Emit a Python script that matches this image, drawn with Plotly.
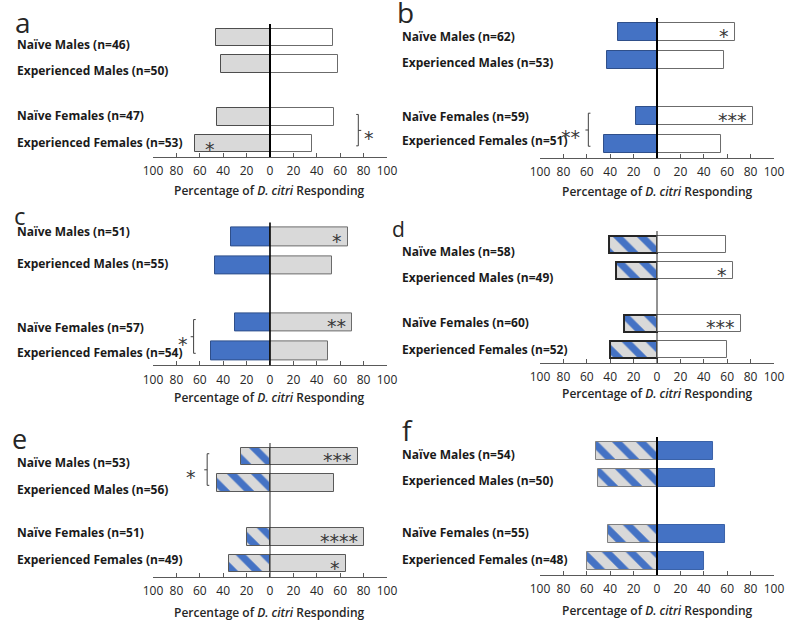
import plotly.graph_objects as go

# ---------------- data ----------------
categories = ["Naïve Males", "Experienced Males", "Naïve Females", "Experienced Females"]
spacer = " "
category_order = [categories[0], categories[1], spacer, categories[2], categories[3]]

tick_values = [-100, -80, -60, -40, -20, 0, 20, 40, 60, 80, 100]
tick_labels = ["100", "80", "60", "40", "20", "0", "20", "40", "60", "80", "100"]

# panel a
n_a = [46, 50, 47, 53]
left_a = [46, 42, 45, 64]
right_a = [54, 58, 55, 36]
left_sig_a = ["", "", "", "*"]
right_sig_a = ["", "", "", ""]
# panel b
n_b = [62, 53, 59, 51]
left_b = [33, 43, 18, 45]
right_b = [67, 57, 82, 55]
left_sig_b = ["", "", "", ""]
right_sig_b = ["*", "", "***", ""]
# panel c
n_c = [51, 55, 57, 54]
left_c = [33, 47, 30, 50]
right_c = [67, 53, 70, 50]
left_sig_c = ["", "", "", ""]
right_sig_c = ["*", "", "**", ""]
# panel d
n_d = [58, 49, 60, 52]
left_d = [41, 35, 28, 40]
right_d = [59, 65, 72, 60]
left_sig_d = ["", "", "", ""]
right_sig_d = ["", "*", "***", ""]
# panel e
n_e = [53, 56, 51, 49]
left_e = [25, 45, 20, 35]
right_e = [75, 55, 80, 65]
left_sig_e = ["", "", "", ""]
right_sig_e = ["***", "", "****", "*"]
# panel f
n_f = [54, 50, 55, 48]
left_f = [52, 50, 42, 60]
right_f = [48, 50, 58, 40]
left_sig_f = ["", "", "", ""]
right_sig_f = ["", "", "", ""]

# group comparisons: (first category, second category, text)
bracket_a = ("Naïve Females", "Experienced Females", "*")
bracket_b = ("Naïve Females", "Experienced Females", "**")
bracket_c = ("Naïve Females", "Experienced Females", "*")
bracket_e = ("Naïve Males", "Experienced Males", "*")

# ---------------- styles ----------------
W, H = 795, 620
GRAY = "#d9d9d9"
BLUE = "#4472c4"
WHITE = "#ffffff"
DARK = "#262626"
FONT = "Open Sans"
STAR_FONT = dict(family="DejaVu Sans", size=19, color="#3a3a3a")

def style(kind, outline="#595959", lw=1):
    if kind == "hatch":
        return dict(color=GRAY, line=dict(color=outline, width=lw),
                    pattern=dict(shape="\\", bgcolor=GRAY, fgcolor=BLUE,
                                 size=17, solidity=0.42, fillmode="replace"))
    col = {"gray": GRAY, "blue": BLUE, "white": WHITE}[kind]
    return dict(color=col, line=dict(color=outline, width=lw))

panels = [
    dict(letter="a", n=n_a, left=left_a, right=right_a, lsig=left_sig_a, rsig=right_sig_a,
         lstyle=style("gray", "#4d4d4d"), rstyle=style("white", "#6b6b6b"),
         xpx=(146.7, 386.7), ypx=(24, 157), zero=(2, "#000000"),
         letter_pos=(13, 22), letter_size=28, label_x=5,
         label_off=[6.7, 7.1, -2.1, -1.7], title_off=34,
         bracket=bracket_a, bracket_x=75.5, bracket_dir=-1, bracket_text_x=85),
    dict(letter="b", n=n_b, left=left_b, right=right_b, lsig=left_sig_b, rsig=right_sig_b,
         lstyle=style("blue", "#2f4f8a"), rstyle=style("white", "#6b6b6b"),
         xpx=(543.7, 783.7), ypx=(18, 158), zero=(2, "#000000"),
         letter_pos=(406, 12), letter_size=28, label_x=400.5,
         label_off=[4, 2.5, 0, -4], title_off=33,
         bracket=bracket_b, bracket_x=-58.7, bracket_dir=1, bracket_text_x=-74),
    dict(letter="c", n=n_c, left=left_c, right=right_c, lsig=left_sig_c, rsig=right_sig_c,
         lstyle=style("blue", "#2f4f8a"), rstyle=style("gray", "#6b6b6b"),
         xpx=(146.7, 386.7), ypx=(222.4, 365.3), zero=(1.6, "#000000"),
         letter_pos=(10, 215), letter_size=24, label_x=5,
         label_off=[-4.7, -1.3, 5, 1.5], title_off=32,
         bracket=bracket_c, bracket_x=-65.3, bracket_dir=1, bracket_text_x=-74),
    dict(letter="d", n=n_d, left=left_d, right=right_d, lsig=left_sig_d, rsig=right_sig_d,
         lstyle=style("hatch", "#262626", 2), rstyle=style("white", "#6b6b6b"),
         xpx=(543.7, 783.7), ypx=(231, 363), zero=(1, "#262626"),
         letter_pos=(399, 229), letter_size=21, label_x=400.5,
         label_off=[7.5, 6.9, -0.9, -0.8], title_off=30,
         bracket=None),
    dict(letter="e", n=n_e, left=left_e, right=right_e, lsig=left_sig_e, rsig=right_sig_e,
         lstyle=style("hatch", "#595959", 1), rstyle=style("gray", "#595959"),
         xpx=(146.7, 386.7), ypx=(443, 577), zero=(1, "#262626"),
         letter_pos=(10, 438), letter_size=27, label_x=5,
         label_off=[6.1, 5.8, -4.3, -4.6], title_off=35,
         bracket=bracket_e, bracket_x=-53.7, bracket_dir=1, bracket_text_x=-67.5),
    dict(letter="f", n=n_f, left=left_f, right=right_f, lsig=left_sig_f, rsig=right_sig_f,
         lstyle=style("hatch", "#7f7f7f", 1), rstyle=style("blue", "#3a62a8"),
         xpx=(543.7, 783.7), ypx=(437, 575), zero=(2, "#000000"),
         letter_pos=(407.5, 429.5), letter_size=28, label_x=400.5,
         label_off=[3.2, 2.4, -1.1, -2.2], title_off=35,
         bracket=None),
]

fig = go.Figure()
shapes = []
annotations = []
layout_axes = {}

for i, p in enumerate(panels):
    sfx = "" if i == 0 else str(i + 1)
    xa, ya = "x" + sfx, "y" + sfx
    # bars
    fig.add_trace(go.Bar(x=[-v for v in p["left"]], y=categories, orientation="h",
                         xaxis=xa, yaxis=ya, width=0.65, marker=p["lstyle"],
                         showlegend=False, hoverinfo="skip"))
    fig.add_trace(go.Bar(x=p["right"], y=categories, orientation="h",
                         xaxis=xa, yaxis=ya, width=0.65, marker=p["rstyle"],
                         showlegend=False, hoverinfo="skip"))
    x0, x1 = p["xpx"]
    yt, yb = p["ypx"]
    layout_axes["xaxis" + sfx] = dict(
        domain=[x0 / W, x1 / W], anchor=ya, range=[-100, 100],
        tickvals=tick_values, ticktext=tick_labels, tickangle=0,
        ticks="inside", ticklen=4, tickcolor="#595959", tickwidth=1,
        showline=True, linecolor="#595959", linewidth=1,
        showgrid=False, zeroline=False, ticklabelstandoff=3,
        tickfont=dict(family=FONT, size=12, color=DARK), fixedrange=True)
    layout_axes["yaxis" + sfx] = dict(
        domain=[1 - yb / H, 1 - yt / H], anchor=xa, type="category",
        categoryorder="array", categoryarray=category_order,
        range=[4.5, -0.5], showticklabels=False, ticks="", showline=False,
        showgrid=False, zeroline=False, fixedrange=True)
    # zero line
    zw, zc = p["zero"]
    shapes.append(dict(type="line", xref=xa, yref=ya + " domain", x0=0, x1=0, y0=0, y1=1,
                       line=dict(color=zc, width=zw), layer="above"))
    # panel letter
    lx, ly = p["letter_pos"]
    annotations.append(dict(text=p["letter"], xref="paper", yref="paper", x=lx / W, y=1 - ly / H,
                            xanchor="center", yanchor="middle", showarrow=False,
                            font=dict(family=FONT, size=p["letter_size"], color=DARK)))
    # category labels
    for cat, n, off in zip(categories, p["n"], p["label_off"]):
        annotations.append(dict(text=f"{cat} (n={n})", xref="paper", yref=ya,
                                x=p["label_x"] / W, y=cat, xanchor="left", yanchor="middle",
                                yshift=-off, showarrow=False,
                                font=dict(family=FONT, size=12, color="#1a1a1a", weight=700)))
    # axis title
    annotations.append(dict(text="Percentage of <i>D. citri</i> Responding", xref=xa,
                            yref=ya + " domain", x=0, y=0, yshift=-p["title_off"],
                            xanchor="center", yanchor="middle", showarrow=False,
                            font=dict(family=FONT, size=12, color=DARK, weight=600)))
    # significance marks inside bars
    for cat, v, s in zip(categories, p["right"], p["rsig"]):
        if s:
            annotations.append(dict(text=s, xref=xa, yref=ya, x=v, y=cat, xanchor="right",
                                    yanchor="middle", xshift=-4, yshift=-4, showarrow=False,
                                    font=STAR_FONT))
    for cat, v, s in zip(categories, p["left"], p["lsig"]):
        if s:
            annotations.append(dict(text=s, xref=xa, yref=ya, x=-v, y=cat, xanchor="left",
                                    yanchor="middle", xshift=8, yshift=-5, showarrow=False,
                                    font=STAR_FONT))
    # bracket between groups
    if p["bracket"]:
        c0, c1, txt = p["bracket"]
        i0, i1 = category_order.index(c0), category_order.index(c1)
        bx = p["bracket_x"]
        d = p["bracket_dir"]
        ytop, ybot, ymid = i0 - 0.1, i1 + 0.08, (i0 + i1) / 2
        hook = 1.8 * d
        nub = -2.5 * d
        lc = dict(color="#404040", width=1)
        shapes.append(dict(type="line", xref=xa, yref=ya, x0=bx, x1=bx, y0=ytop, y1=ybot, line=lc))
        shapes.append(dict(type="line", xref=xa, yref=ya, x0=bx, x1=bx + hook, y0=ytop, y1=ytop, line=lc))
        shapes.append(dict(type="line", xref=xa, yref=ya, x0=bx, x1=bx + hook, y0=ybot, y1=ybot, line=lc))
        shapes.append(dict(type="line", xref=xa, yref=ya, x0=bx, x1=bx + nub, y0=ymid, y1=ymid, line=lc))
        annotations.append(dict(text=txt, xref=xa, yref=ya, x=p["bracket_text_x"], y=ymid + 0.08,
                                xanchor="center", yanchor="middle", yshift=-5, showarrow=False,
                                font=STAR_FONT))

fig.update_layout(
    width=W, height=H, margin=dict(l=0, r=0, t=0, b=0),
    paper_bgcolor="white", plot_bgcolor="white",
    barmode="overlay", bargap=0, showlegend=False,
    shapes=shapes, annotations=annotations,
    font=dict(family=FONT, color=DARK),
    **layout_axes,
)

fig.write_html("out.html", config={"displayModeBar": False},
               post_script="document.body.style.margin='0';document.body.style.overflow='hidden';")
